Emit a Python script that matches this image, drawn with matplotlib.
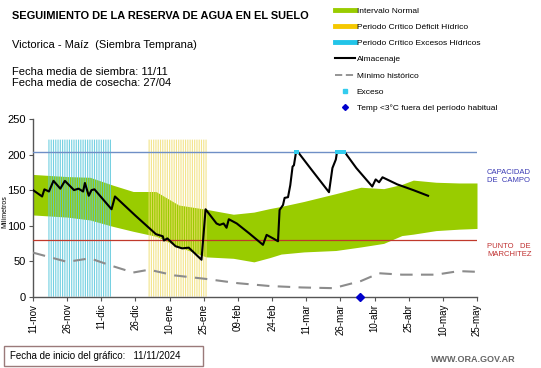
import matplotlib
matplotlib.use("Agg")
import matplotlib.pyplot as plt
from matplotlib.lines import Line2D
from matplotlib.patches import Rectangle

plt.rcParams['font.family'] = ['Liberation Sans', 'DejaVu Sans']

# ---- data (days since 11-nov-2024) ----
tick_labels = ["11-nov", "26-nov", "11-dic", "26-dic", "10-ene", "25-ene", "09-feb",
               "24-feb", "11-mar", "26-mar", "10-abr", "25-abr", "10-may", "25-may"]
tick_days = [0, 15, 30, 45, 60, 75, 90, 105, 120, 135, 150, 165, 180, 195]

band_days = [0, 15, 25, 35, 44, 54, 64, 76, 88, 97, 104, 109, 119, 133, 144, 154, 162, 167, 177, 187, 195]
band_upper = [172, 169, 168, 157, 148, 148, 129, 123, 116, 119, 124, 127, 134, 145, 154, 152, 158, 164, 161, 160, 160]
band_lower = [115, 112, 108, 99, 92, 85, 70, 56, 54, 49, 55, 60, 63, 65, 70, 75, 86, 88, 93, 95, 96]

min_days = [0, 15, 25, 35, 44, 51, 62, 76, 90, 104, 118, 132, 144, 152, 162, 177, 187, 195]
min_hist = [62, 49, 54, 43, 34, 38, 30, 25, 19, 15, 13, 12, 22, 33, 31, 31, 36, 35]

alm_days = [0, 4, 5, 7, 9, 12, 14, 18, 20, 22, 22.8, 24.5, 25.7, 27, 34.5, 36, 45, 54, 57, 57.5,
            59, 62.6, 65.5, 68.4, 74, 75.8, 80.6, 82, 83.7, 85, 86, 89.5, 95, 101, 102.6, 106,
            107.6, 108.3, 109.8, 110.5, 112, 113, 114, 114.6, 115.5, 116.5, 122, 130, 131.5,
            133, 133.5, 137, 142, 149, 150.5, 152, 153.5, 160, 167, 173.5]
almacenaje = [150, 141, 151, 148, 163, 152, 163, 150, 152, 148, 160, 142, 150, 151, 123, 141, 114,
              88, 85, 79, 82, 71, 68, 69, 52, 123, 103, 101, 103, 97, 109, 103, 89, 73, 87, 81,
              78, 122, 129, 139, 140, 157, 183, 185, 203, 203, 180, 147, 181, 193, 203, 203, 181,
              155, 165, 161, 168, 158, 150, 142]

exceso_days = [115.5, 116, 133.5, 134.5, 135.5, 136.5]
exceso_vals = [203, 203, 203, 203, 203, 203]

excess_period_days = list(range(7, 35))
deficit_period_days = list(range(51, 77))
period_top = 221

frost_days = [143.6]
frost_vals = [0]

capacidad = 203
marchitez = 80

# ---- figure ----
fig = plt.figure(figsize=(5.41, 3.68), dpi=100)
ax = fig.add_axes([33 / 541, 1 - 296.7 / 368, 444 / 541, 177.7 / 368])

ax.fill_between(band_days, band_lower, band_upper, color='#99cc00', lw=0, zorder=1)
b1 = ax.bar(excess_period_days, [period_top] * len(excess_period_days), width=0.5,
            color='#5cc8dc', alpha=0.85, lw=0, zorder=2)
b2 = ax.bar(deficit_period_days, [period_top] * len(deficit_period_days), width=0.5,
            color='#f0de70', alpha=0.8, lw=0, zorder=2)
for p in list(b1) + list(b2):
    p.set_snap(False)
ax.axhline(capacidad, color='#6f8fc6', lw=1.0, zorder=3)
ax.axhline(marchitez, color='#c0392b', lw=0.9, zorder=3)
ax.plot(min_days, min_hist, color='#8c8c8c', lw=1.5, dashes=(6, 4), zorder=4)
ax.plot(alm_days, almacenaje, color='black', lw=1.5, zorder=5)
ax.plot(exceso_days, exceso_vals, 's', color='#33ccee', ms=2.5, mew=0, zorder=6)
ax.plot(frost_days, frost_vals, 'D', color='#0000cc', ms=4.5, zorder=7, clip_on=False)

ax.set_xlim(0, 195)
ax.set_ylim(0, 250)
ax.set_xticks(tick_days)
ax.set_xticklabels(tick_labels, rotation=90, fontsize=7)
ax.set_yticks([0, 50, 100, 150, 200, 250])
ax.tick_params(axis='y', labelsize=8, length=3, color='#555555', pad=2)
ax.tick_params(axis='x', length=3, color='#555555', pad=2)
for s in ['top', 'right']:
    ax.spines[s].set_visible(False)
for s in ['left', 'bottom']:
    ax.spines[s].set_color('#555555')
    ax.spines[s].set_linewidth(1.0)
fig.text(5 / 541, 1 - 212 / 368, 'Milímetros', fontsize=5, rotation=90, va='center', ha='center')

# right labels
fig.text(487 / 541, 1 - 176 / 368, 'CAPACIDAD\nDE  CAMPO', fontsize=5.5, color='#3a3ab4',
         va='center', ha='left', linespacing=1.2)
fig.text(487 / 541, 1 - 251 / 368, 'PUNTO   DE\nMARCHITEZ', fontsize=5.5, color='#c03030',
         va='center', ha='left', linespacing=1.2)

# titles
fig.text(12 / 541, 1 - 16 / 368, 'SEGUIMIENTO DE LA RESERVA DE AGUA EN EL SUELO',
         fontsize=7.9, fontweight='bold', va='center', ha='left')
fig.text(12 / 541, 1 - 45 / 368, 'Victorica - Maíz  (Siembra Temprana)', fontsize=8,
         va='center', ha='left')
fig.text(12 / 541, 1 - 72 / 368, 'Fecha media de siembra: 11/11', fontsize=8,
         va='center', ha='left')
fig.text(12 / 541, 1 - 83 / 368, 'Fecha media de cosecha: 27/04', fontsize=8,
         va='center', ha='left')

# legend
handles = [
    Line2D([0], [0], color='#99cc00', lw=3.5),
    Line2D([0], [0], color='#f5c800', lw=3.5),
    Line2D([0], [0], color='#22c4e8', lw=3.5),
    Line2D([0], [0], color='black', lw=1.5),
    Line2D([0], [0], color='#8c8c8c', lw=1.3, dashes=(4, 2)),
    Line2D([0], [0], marker='s', color='#33ccee', lw=0, ms=2.5),
    Line2D([0], [0], marker='D', color='#0000cc', lw=0, ms=3),
]
labels = ['Intervalo Normal', 'Periodo Crítico Déficit Hídrico', 'Periodo Crítico Excesos Hídricos',
          'Almacenaje', 'Mínimo histórico', 'Exceso', 'Temp <3°C fuera del período habitual']
fig.legend(handles, labels, loc='upper left', bbox_to_anchor=(335 / 541, 1 - 7 / 368),
           frameon=False, fontsize=6, handlelength=2.4, handletextpad=0.2,
           labelspacing=1.0, borderaxespad=0, borderpad=0)

# bottom box
fig.patches.append(Rectangle((4 / 541, 1 - 366 / 368), 199 / 541, 20 / 368,
                             transform=fig.transFigure, fill=False, ec='#9a7a7a', lw=1.0))
fig.text(10 / 541, 1 - 356 / 368, 'Fecha de inicio del gráfico:   11/11/2024', fontsize=7,
         va='center', ha='left')
fig.text(516 / 541, 1 - 359 / 368, 'WWW.ORA.GOV.AR', fontsize=6.5, color='#666666',
         fontweight='bold', va='center', ha='right')

fig.savefig('out.png', dpi=100)
